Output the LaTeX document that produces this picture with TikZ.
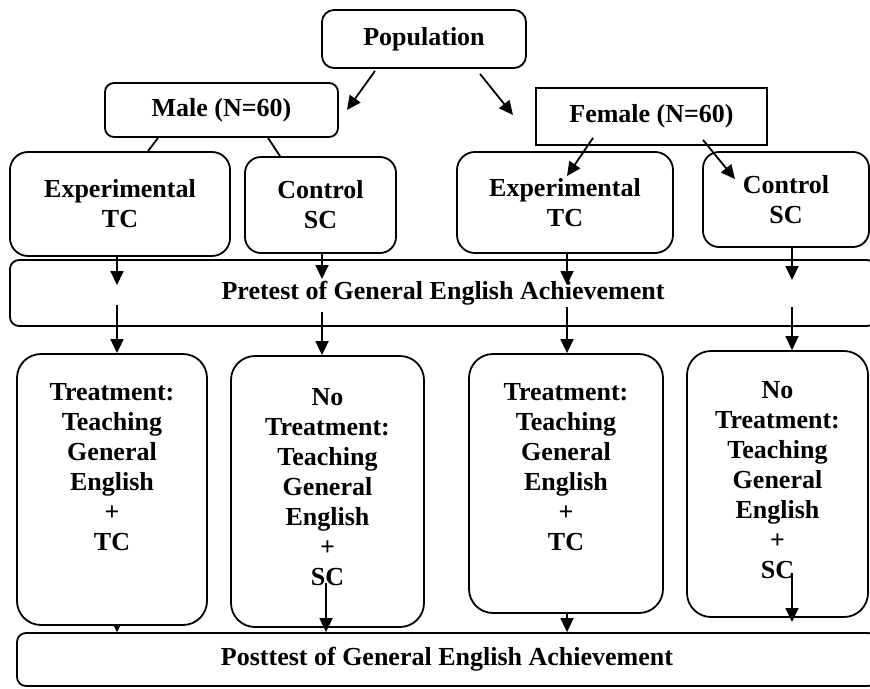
\documentclass[tikz,border=0pt]{standalone}
\usepackage{fontspec}
\setmainfont{Liberation Serif}
\usetikzlibrary{arrows.meta}
\tikzset{
    %Define standard arrow tip
    >={Triangle[length=14pt,width=13pt]},
    %Define style for boxes
    boks/.style={
           rectangle,
           rounded corners=#1,
           draw=black, line width=1.8pt,
           inner sep=0pt,
           font=\bfseries\fontsize{26pt}{30pt}\selectfont,
           align=center},
    boks/.default=12pt,
    boksskarp/.style={
           rectangle,
           draw=black, line width=1.8pt,
           inner sep=0pt,
           font=\bfseries\fontsize{26pt}{30pt}\selectfont,
           align=center},
    % Define arrow style
    pil/.style={
           ->,
           line width=1.8pt},
    linje/.style={
           -,
           line width=1.8pt},
    smaapil/.style={
           -{Triangle[length=6pt,width=6pt]},
           line width=1pt}
}
\begin{document}
\begin{tikzpicture}[x=1pt,y=-1pt]
\useasboundingbox (0,0) rectangle (870,688);
\clip (0,0) rectangle (870,688);

\node[boks=12pt, minimum width=204pt, minimum height=58pt](pop) at (424,39) {Population};
\node[boks=9pt, minimum width=233pt, minimum height=54pt](male) at (221.5,110) {Male (N=60)};
\node[boksskarp, minimum width=231pt, minimum height=57pt](female) at (651.5,116.5) {Female (N=60)};

\node[boks=18pt, minimum width=220pt, minimum height=104pt](mexp) at (120,204) {Experimental\\TC};
\node[boks=16pt, minimum width=151pt, minimum height=96pt](mctl) at (320.5,205) {Control\\SC};
\node[boks=18pt, minimum width=216pt, minimum height=101pt](fexp) at (565,202.5) {Experimental\\TC};
\node[boks=16pt, minimum width=166pt, minimum height=95pt](fctl) at (786,199.5) {Control\\SC};

\node[boks=9pt, minimum width=866pt, minimum height=66pt](pre) at (443,293) {Pretest of General English Achievement};

% text height = top to last baseline, text depth = last baseline to bottom
\node[boks=24pt, minimum width=190pt, text height=196pt, text depth=75pt](mtreat) at (112,489.5)
  {Treatment:\\Teaching\\General\\English\\+\\TC};
\node[boks=24pt, minimum width=193pt, text height=229pt, text depth=42pt](mnotreat) at (327.5,491.5)
  {No\\Treatment:\\Teaching\\General\\English\\+\\SC};
\node[boks=24pt, minimum width=194pt, text height=196pt, text depth=63pt](ftreat) at (566,483.5)
  {Treatment:\\Teaching\\General\\English\\+\\TC};
\node[boks=24pt, minimum width=181pt, text height=227pt, text depth=39pt](fnotreat) at (777.5,484)
  {No\\Treatment:\\Teaching\\General\\English\\+\\SC};

\node[boks=9pt, minimum width=860pt, minimum height=53pt](post) at (447,659.5) {Posttest of General English Achievement};

\coordinate (mpil) at (347,110);
\coordinate (fpil) at (513,115);
\coordinate (t1) at (117,285);
\coordinate (s1) at (117,305);
\coordinate (t2) at (322,279);
\coordinate (s2) at (322,312);
\coordinate (t3) at (567,285);
\coordinate (s3) at (567,307);
\coordinate (t4) at (792,280);
\coordinate (s4) at (792,307);
\coordinate (b2) at (326,583);
\coordinate (b4) at (792,573);
\coordinate (e4) at (792,622);

 \path[pil]
 	([xshift=-49pt,yshift=-2pt]pop.south) edge (mpil)
 	([xshift=56pt,yshift=-5pt]pop.south) edge (fpil)
 	([xshift=-58.5pt,yshift=8pt]female.south) edge ([xshift=2pt,yshift=-25pt]fexp.north)
 	([xshift=51.5pt,yshift=6pt]female.south) edge ([xshift=-51pt,yshift=-28pt]fctl.north)
 	(mexp.south -| t1) edge (t1)
 	(mctl.south -| t2) edge (t2)
 	(fexp.south -| t3) edge (t3)
 	(fctl.south -| t4) edge (t4)
 	(s1) edge (s1 |- mtreat.north)
 	(s2) edge (s2 |- mnotreat.north)
 	(s3) edge (s3 |- ftreat.north)
 	(s4) edge (s4 |- fnotreat.north)
 	(b2) edge (post.north -| b2)
 	(ftreat.south -| s3) edge (post.north -| s3)
 	(b4) edge (e4);
 \path[linje]
 	([xshift=-63.5pt]male.south) edge ([xshift=28pt]mexp.north)
 	([xshift=46.5pt]male.south) edge ([xshift=-40.5pt]mctl.north);
 \path[smaapil]
 	(mtreat.south -| s1) edge (post.north -| s1);

\end{tikzpicture}
\end{document}
